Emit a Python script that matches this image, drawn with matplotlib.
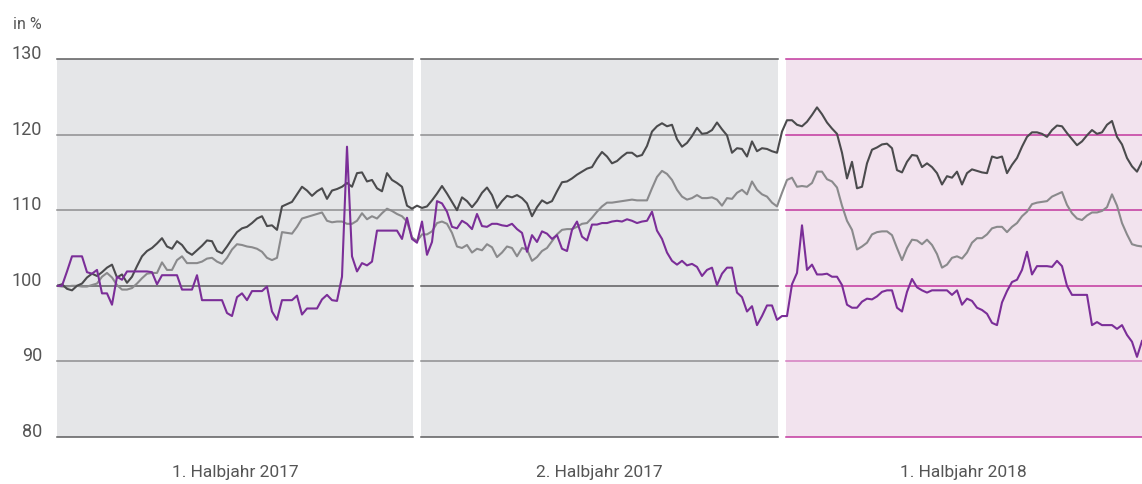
import numpy as np
import matplotlib
matplotlib.use("Agg")
import matplotlib.pyplot as plt
import matplotlib.transforms as mtransforms
from matplotlib.patches import Rectangle

# ------------------------------
# DATA (index values, in %)
# ------------------------------
period_labels = ["1. Halbjahr 2017", "2. Halbjahr 2017", "1. Halbjahr 2018"]
y_ticks = [80, 90, 100, 110, 120, 130]

dark_h1 = [100.0, 100.2, 99.6, 99.4, 100.0, 100.3, 101.1, 101.6, 101.3, 101.8, 102.4, 102.8,
           101.1, 101.5, 100.4, 101.2, 102.6, 103.9, 104.6, 105.0, 105.6, 106.3, 105.2, 104.9,
           105.9, 105.4, 104.5, 104.1, 104.7, 105.3, 106.0, 105.9, 104.6, 104.3, 105.2, 106.2,
           107.1, 107.6, 107.8, 108.3, 108.9, 109.2, 107.9, 108.0, 107.4, 110.5, 110.8, 111.1,
           112.1, 113.1, 112.6, 111.9, 112.5, 112.9, 111.5, 112.6, 112.8, 113.1, 113.6, 113.1,
           114.9, 115.0, 113.8, 114.0, 112.9, 112.5, 114.9, 114.0, 113.6, 113.1, 110.6, 110.2,
           110.6]
dark_h2 = [110.3, 110.5, 111.3, 112.2, 113.2, 112.2, 111.1, 110.0, 111.7, 111.2, 110.4, 111.2,
           112.3, 113.0, 112.0, 110.3, 111.2, 111.9, 111.7, 112.0, 111.6, 110.9, 109.2, 110.4,
           111.3, 110.9, 111.2, 112.5, 113.7, 113.8, 114.2, 114.7, 115.1, 115.5, 115.7, 116.8,
           117.7, 117.1, 116.2, 116.5, 117.1, 117.6, 117.6, 117.1, 117.3, 118.5, 120.4, 121.1,
           121.5, 121.1, 121.3, 119.4, 118.4, 118.9, 119.8, 120.9, 120.1, 120.2, 120.6, 121.6,
           120.7, 119.9, 117.6, 118.2, 118.1, 117.1, 119.1, 117.8, 118.2, 118.1, 117.8, 117.6]
dark_h3 = [120.4, 121.9, 121.9, 121.3, 121.1, 121.7, 122.6, 123.6, 122.7, 121.6, 120.8, 120.1,
           117.6, 114.2, 116.4, 112.9, 113.1, 116.2, 118.0, 118.3, 118.7, 118.8, 118.2, 115.3,
           115.0, 116.4, 117.3, 117.2, 115.7, 116.2, 115.7, 114.9, 113.4, 114.5, 114.3, 115.1,
           113.4, 114.9, 115.4, 115.2, 115.0, 114.9, 117.1, 116.9, 117.1, 114.9, 116.0, 116.9,
           118.4, 119.7, 120.3, 120.3, 120.1, 119.7, 120.6, 121.2, 121.1, 120.2, 119.4, 118.6,
           119.1, 119.9, 120.6, 120.1, 120.3, 121.3, 121.8, 119.7, 118.7, 116.9, 115.8, 115.1,
           116.4]

grey_h1 = [100.0, 99.9, 99.9, 100.0, 100.0, 99.9, 99.9, 100.1, 100.3, 101.2, 101.7, 101.1,
           100.1, 99.5, 99.5, 99.7, 100.3, 101.0, 101.6, 101.7, 101.7, 103.1, 102.1, 102.1,
           103.4, 103.9, 103.0, 103.0, 103.0, 103.2, 103.6, 103.7, 103.2, 102.9, 103.7, 104.8,
           105.5, 105.4, 105.2, 105.1, 104.9, 104.5, 103.7, 103.4, 103.7, 107.1, 107.0, 106.9,
           107.8, 108.9, 109.1, 109.3, 109.5, 109.7, 108.6, 108.4, 108.5, 108.5, 108.2, 108.2,
           108.6, 109.6, 108.8, 109.2, 108.9, 109.6, 110.2, 109.9, 109.5, 109.2, 108.5, 106.4,
           105.9]
grey_h2 = [106.8, 106.8, 107.2, 108.3, 108.5, 108.2, 107.0, 105.2, 105.0, 105.4, 104.4, 104.9,
           104.7, 105.5, 105.1, 103.8, 104.4, 105.2, 105.0, 103.9, 105.0, 104.8, 103.3, 103.8,
           104.6, 105.0, 105.9, 106.8, 107.4, 107.5, 107.5, 107.8, 108.2, 108.3, 109.0, 109.8,
           110.5, 111.0, 111.0, 111.1, 111.2, 111.3, 111.4, 111.3, 111.3, 111.3, 112.9, 114.4,
           115.2, 114.8, 114.0, 112.7, 111.8, 111.4, 111.6, 112.0, 111.6, 111.6, 111.7, 111.4,
           110.6, 111.6, 111.5, 112.3, 112.7, 112.1, 113.8, 112.7, 112.1, 111.8, 111.0, 110.5]
grey_h3 = [112.3, 114.0, 114.3, 113.1, 113.2, 113.1, 113.6, 115.1, 115.1, 114.1, 113.8, 113.0,
           110.6, 108.6, 107.4, 104.8, 105.2, 105.7, 106.8, 107.1, 107.2, 107.2, 106.7, 105.0,
           103.4, 105.0, 106.1, 106.0, 105.5, 106.1, 105.4, 104.2, 102.4, 102.8, 103.7, 103.9,
           103.6, 104.4, 105.7, 106.3, 106.3, 106.8, 107.6, 107.8, 107.8, 107.1, 107.8, 108.3,
           109.2, 109.8, 110.8, 111.0, 111.1, 111.2, 111.8, 112.1, 112.4, 110.7, 109.6, 108.9,
           108.7, 109.3, 109.7, 109.7, 109.9, 110.4, 112.1, 110.6, 108.3, 106.8, 105.5, 105.3,
           105.2]

purple_h1 = [100.0, 100.0, 101.9, 103.9, 103.9, 103.9, 101.8, 101.6, 102.1, 99.0, 99.0, 97.5,
             101.2, 100.8, 101.9, 101.9, 101.9, 101.9, 101.9, 101.8, 100.2, 101.4, 101.4, 101.4,
             101.4, 99.5, 99.5, 99.5, 101.4, 98.1, 98.1, 98.1, 98.1, 98.1, 96.4, 96.0,
             98.5, 99.0, 98.1, 99.3, 99.3, 99.3, 99.9, 96.6, 95.5, 98.1, 98.1, 98.1,
             98.7, 96.2, 97.0, 97.0, 97.0, 98.2, 98.8, 98.1, 98.0, 101.2, 118.4, 103.9,
             101.9, 103.0, 102.7, 103.2, 107.3, 107.3, 107.3, 107.3, 107.3, 106.2, 109.0, 106.2,
             105.7]
purple_h2 = [108.5, 104.1, 105.8, 111.2, 110.9, 109.8, 107.8, 107.6, 108.6, 108.2, 107.5, 109.5,
             107.9, 107.8, 108.2, 108.2, 108.0, 107.9, 108.2, 107.5, 107.0, 104.5, 106.7, 105.8,
             107.2, 106.9, 106.2, 106.7, 104.9, 104.6, 107.4, 108.5, 106.5, 106.0, 108.1, 108.1,
             108.3, 108.3, 108.5, 108.6, 108.5, 108.8, 108.6, 108.3, 108.5, 108.6, 109.8, 107.3,
             106.2, 104.4, 103.3, 102.8, 103.3, 102.7, 102.9, 102.5, 101.3, 102.1, 102.4, 100.1,
             101.6, 102.4, 102.4, 99.1, 98.5, 96.6, 97.3, 94.8, 96.0, 97.4, 97.4, 95.5]
purple_h3 = [96.0, 96.0, 100.2, 101.7, 108.0, 102.1, 102.8, 101.5, 101.5, 101.6, 101.2, 101.2,
             100.1, 97.5, 97.1, 97.1, 97.9, 98.3, 98.2, 98.6, 99.2, 99.4, 99.4, 97.1,
             96.6, 99.2, 100.9, 99.8, 99.4, 99.1, 99.4, 99.4, 99.4, 99.4, 98.8, 99.4,
             97.5, 98.3, 98.0, 97.1, 96.8, 96.3, 95.1, 94.8, 97.8, 99.3, 100.5, 100.8,
             102.1, 104.5, 101.5, 102.6, 102.6, 102.6, 102.5, 103.3, 102.6, 100.0, 98.8, 98.8,
             98.8, 98.8, 94.8, 95.2, 94.8, 94.8, 94.8, 94.3, 94.8, 93.5, 92.6, 90.6,
             92.7]

# ------------------------------
# STYLE
# ------------------------------
plt.rcParams["font.family"] = ["Roboto", "DejaVu Sans"]

COL_DARK = "#4b4b4d"
COL_GREY = "#8a8a8c"
COL_PURPLE = "#7b2e98"
BG_GREY = "#e5e6e8"
BG_PINK = "#f2e3ee"
GRID_DARK = "#5c5c5e"
GRID_LIGHT = "#8e8e90"
GRID_MAG = "#c2389e"
GRID_MAG_LIGHT = "#d47cc0"
TEXT_COL = "#555555"

W, H = 1142, 484
left_px, right_px, top_px, bottom_px = 57, 1142, 59, 437
gap_px = 8
panel_px = (right_px - left_px - 2 * gap_px) / 3


def main():
    dark = np.array(dark_h1 + dark_h2 + dark_h3)
    grey = np.array(grey_h1 + grey_h2 + grey_h3)
    purple = np.array(purple_h1 + purple_h2 + purple_h3)
    x = np.arange(len(dark))

    fig = plt.figure(figsize=(W / 100, H / 100), dpi=100)
    ax = fig.add_axes([left_px / W, 1 - bottom_px / H,
                       (right_px - left_px) / W, (bottom_px - top_px) / H])
    ax.set_xlim(0, len(x) - 1)
    ax.set_ylim(80, 130)
    ax.axis("off")

    span = right_px - left_px
    for i in range(3):
        x0 = (i * (panel_px + gap_px)) / span
        x1 = x0 + panel_px / span
        pink = i == 2
        ax.add_patch(Rectangle((x0, 0), x1 - x0, 1, transform=ax.transAxes,
                               facecolor=BG_PINK if pink else BG_GREY,
                               edgecolor="none", zorder=0))
        for v in y_ticks:
            if pink:
                c = GRID_MAG_LIGHT if v in (90,) else GRID_MAG
            else:
                c = GRID_DARK if v in (80, 100, 130) else GRID_LIGHT
            ax.axhline(v, xmin=x0, xmax=x1, color=c, lw=1.1, zorder=1,
                       clip_on=False)
        ax.text((x0 + x1) / 2, -0.095, period_labels[i], transform=ax.transAxes,
                ha="center", va="center", fontsize=12.5, color=TEXT_COL)

    ax.plot(x, grey, color=COL_GREY, lw=1.5, zorder=3)
    ax.plot(x, dark, color=COL_DARK, lw=1.5, zorder=4)
    ax.plot(x, purple, color=COL_PURPLE, lw=1.5, zorder=5)

    trans = mtransforms.blended_transform_factory(ax.transAxes, ax.transData)
    lab_x = (42 - left_px) / span
    for v in y_ticks:
        ax.text(lab_x, v, str(v), transform=trans, ha="right", va="baseline",
                fontsize=13, color=TEXT_COL)
    fig.text(42 / W, 1 - 29 / H, "in %", ha="right", va="baseline",
             fontsize=11.5, color=TEXT_COL)

    fig.savefig("out.png", dpi=100)


if __name__ == "__main__":
    main()
